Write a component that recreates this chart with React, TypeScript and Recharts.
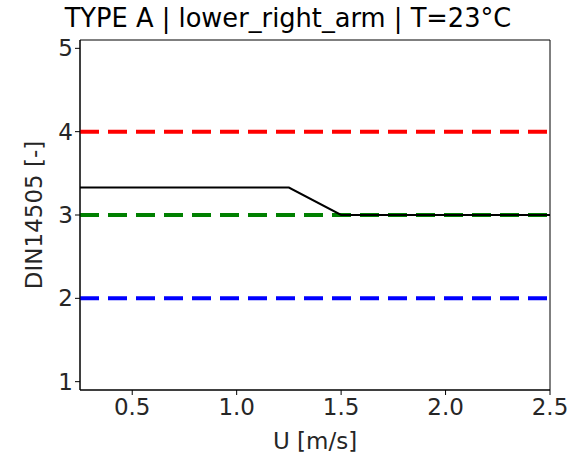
import { LineChart, Line, XAxis, YAxis, ReferenceArea } from "recharts";

const speeds = [0.25, 0.5, 0.75, 1.0, 1.25, 1.5, 1.75, 2.0, 2.25, 2.5];
const din = [3.33, 3.33, 3.33, 3.33, 3.33, 3.0, 3.0, 3.0, 3.0, 3.0];
const upperLimit = 4;
const target = 3;
const lowerLimit = 2;
const xTicks = [0.5, 1.0, 1.5, 2.0, 2.5];
const yTicks = [1, 2, 3, 4, 5];

const rows = speeds.map((u, i) => ({
  u,
  din: din[i],
  upper: upperLimit,
  target: target,
  lower: lowerLimit,
}));

const font = "DejaVu Sans";
const textColor = "#262626";

export default function App() {
  return (
    <div style={{ position: "absolute", left: 0, top: 0, width: 576, height: 453, background: "#fff" }}>
      <div
        style={{
          position: "absolute",
          left: 0,
          top: 3,
          width: 576,
          textAlign: "center",
          fontFamily: font,
          fontSize: 25.7,
          color: "#000",
          lineHeight: "30px",
          whiteSpace: "nowrap",
        }}
      >
        <span style={{ position: "relative", left: 0 }}>TYPE A | lower_right_arm | T=23°C</span>
      </div>
      <LineChart width={576} height={453} data={rows} margin={{ top: 40, right: 26, bottom: 2, left: 0 }}>
        <XAxis
          dataKey="u"
          type="number"
          domain={[0.25, 2.5]}
          ticks={xTicks}
          tickFormatter={(v: number) => v.toFixed(1)}
          allowDataOverflow
          height={61}
          stroke="#000"
          tickSize={5}
          tickMargin={4}
          tick={{ fill: textColor, fontSize: 23, fontFamily: font }}
          label={{ value: "U [m/s]", position: "insideBottom", offset: 2, fill: textColor, fontSize: 23, fontFamily: font }}
        />
        <YAxis
          type="number"
          domain={[0.9, 5.1]}
          ticks={yTicks}
          allowDataOverflow
          width={80}
          stroke="#000"
          tickSize={5}
          tick={{ fill: textColor, fontSize: 23, fontFamily: font }}
          label={{ value: "DIN14505 [-]", angle: -90, position: "insideLeft", offset: 34, fill: textColor, fontSize: 23, fontFamily: font, style: { textAnchor: "middle" } }}
        />
        <ReferenceArea x1={0.25} x2={2.5} y1={0.9} y2={5.1} fill="none" stroke="#000" strokeWidth={1} ifOverflow="visible" />
        <Line dataKey="upper" stroke="#ff0000" strokeWidth={4} strokeDasharray="19 9" dot={false} isAnimationActive={false} />
        <Line dataKey="target" stroke="#008000" strokeWidth={4} strokeDasharray="19 9" dot={false} isAnimationActive={false} />
        <Line dataKey="lower" stroke="#0000ff" strokeWidth={4} strokeDasharray="19 9" dot={false} isAnimationActive={false} />
        <Line dataKey="din" type="linear" stroke="#000" strokeWidth={2} dot={false} isAnimationActive={false} />
      </LineChart>
    </div>
  );
}
